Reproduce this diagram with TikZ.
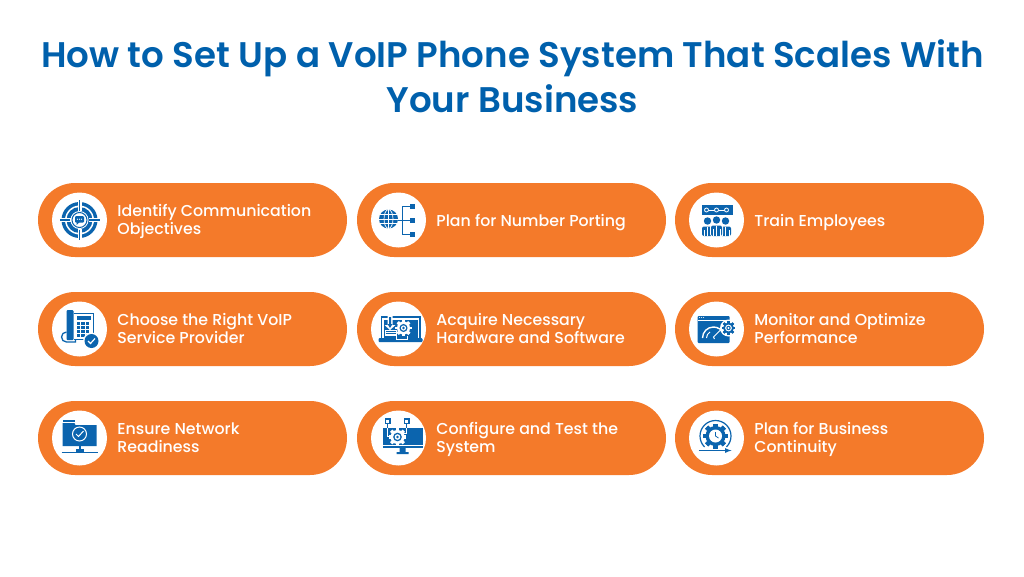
\documentclass[tikz,border=0pt]{standalone}
\usepackage{fontspec}
\setmainfont{Poppins Medium}[BoldFont={Poppins SemiBold}]
\usetikzlibrary{positioning,shapes.misc}
\definecolor{titleblue}{HTML}{0060AC}
\definecolor{iconblue}{HTML}{0B64AE}
\definecolor{pillorange}{HTML}{F47A2A}
\tikzset{
  pill/.style={rounded rectangle,fill=pillorange,minimum width=309pt,minimum height=74pt,inner sep=0pt},
  badge/.style={circle,fill=white,minimum size=55pt,inner sep=0pt},
  caption/.style={text=white,align=left,inner sep=0pt,yshift=-2.5pt,font=\fontsize{15.8}{18}\selectfont,execute at begin node=\strut,execute at end node=\strut},
  headline/.style={text=titleblue,align=center,inner sep=0pt,font=\fontsize{35.6}{45}\selectfont\bfseries},
  ic/.style={fill=iconblue,draw=none},
  icl/.style={draw=iconblue,line width=1pt},
  wl/.style={draw=white,line width=1pt}
}
% gear at a point: #1 centre, #2 radius, #3 colour, #4 hole colour
\newcommand{\gearicon}[4]{
  \foreach \a in {0,45,...,315}
    \fill[#3,rotate around={\a:(#1)}] ([shift={(-#2*0.22,-#2*1.25)}]#1) rectangle ([shift={(#2*0.22,#2*1.25)}]#1);
  \fill[#3] (#1) circle[radius=#2];
  \fill[#4] (#1) circle[radius=#2*0.62];
  \fill[#3] (#1) circle[radius=#2*0.4];
  \fill[#4] (#1) circle[radius=#2*0.2];
}
\begin{document}
\begin{tikzpicture}[x=1pt,y=-1pt]
\useasboundingbox (0,0) rectangle (1024,576);
\node[headline] (title) at (512.5,76) {How to Set Up a VoIP Phone System That Scales With\\Your Business};
% pills, badges and captions
\foreach \n/\px/\py/\txt in {
  1/192.5/220/{Identify Communication\\Objectives},
  2/192.5/329/{Choose the Right VoIP\\Service Provider},
  3/192.5/438/{Ensure Network\\Readiness},
  4/511.5/220/{Plan for Number Porting},
  5/511.5/329/{Acquire Necessary\\Hardware and Software},
  6/511.5/438/{Configure and Test the\\System},
  7/829.5/220/{Train Employees},
  8/829.5/329/{Monitor and Optimize\\Performance},
  9/829.5/438/{Plan for Business\\Continuity}}{
  \node[pill] (p\n) at (\px,\py) {};
  \node[badge,right=14pt of p\n.west] (b\n) {};
  \node[caption,right=10pt of b\n] (t\n) {\txt};
}
% target
\begin{scope}[shift={(b1.center)}]
\fill[iconblue] (0,0) circle[radius=18];
\fill[white] (0,0) circle[radius=14.5];
\fill[iconblue] (0,0) circle[radius=13];
\fill[white] (0,0) circle[radius=9];
\draw[icl] (0,0) circle[radius=7.5];
\foreach \a in {0,90,180,270}{
  \draw[white,line width=4pt,rotate=\a] (9,0) -- (19,0);
  \draw[iconblue,line width=1.2pt,rotate=\a] (9.5,0) -- (20,0);
}
\fill[iconblue,rounded corners=1pt] (-4.5,-4) rectangle (4.5,2.5);
\fill[iconblue] (-3,2) -- (-3,5) -- (0,2) -- cycle;
\foreach \x in {-2,0,2} \fill[white] (\x,-0.8) circle[radius=0.6];
\end{scope}
% phone
\begin{scope}[shift={(b2.center)}]
\fill[ic,rounded corners=1pt] (-13,-19) rectangle (-6,11);
\draw[icl,line width=1.3pt] (-13,3) arc[start angle=270,end angle=90,radius=5] -- (-4,13) -- (-4,11);
\draw[icl,line width=1.4pt] (-6,-15.5) -- (14,-15.5) -- (14,6);
\draw[icl,line width=1.4pt] (-6,10.5) -- (4,10.5);
\fill[ic] (-3,-13) rectangle (11,-9);
\foreach \i in {0,1,2,3} \foreach \j in {0,1,2}
  \fill[ic] (-3+\j*4.7,-7+\i*4) rectangle (0.5+\j*4.7,-4.2+\i*4);
\fill[white] (12,12) circle[radius=8.5];
\fill[ic] (12,12) circle[radius=7];
\draw[wl,line width=1.2pt] (8.5,12) -- (11,14.5) -- (15.5,9.5);
\end{scope}
% folder
\begin{scope}[shift={(b3.center)}]
\fill[ic] (-17,-18) rectangle (-5,-16);
\fill[ic] (-17,-15) -- (-5,-15) -- (-4,-13) -- (17,-13) -- (17,8) -- (-17,8) -- cycle;
\draw[wl] (0,-4) circle[radius=7];
\draw[wl] (-3.5,-4) -- (-1,-1.5) -- (4,-7);
\fill[ic] (-1,8) rectangle (1,12);
\fill[ic] (-4,11) rectangle (4,15);
\draw[icl] (-18,14) -- (18,14);
\end{scope}
% globe and tree
\begin{scope}[shift={(b4.center)}]
\fill[ic] (-10,-1) circle[radius=9.5];
\draw[wl,line width=.7pt] (-19.5,-1) -- (-0.5,-1) (-10,-10.5) -- (-10,8.5);
\draw[wl,line width=.7pt] (-10,-1) ellipse[x radius=4.5,y radius=9.5];
\draw[wl,line width=.7pt] (-18.5,-5.5) -- (-1.5,-5.5) (-18.5,3.5) -- (-1.5,3.5);
\draw[icl,line width=.7pt] (-0.5,0) -- (14,0) (12,-14) -- (4,-14) -- (4,14) -- (12,14);
\foreach \y in {-14,0,14} \fill[ic] (11.5,\y-2.5) rectangle (16.5,\y+2.5);
\end{scope}
% laptop
\begin{scope}[shift={(b5.center)}]
\fill[ic] (-18,-13) rectangle (22,9);
\fill[white] (-16.5,-11) rectangle (20.5,9);
\fill[ic] (-15,-9.5) rectangle (19,9);
\fill[ic,rounded corners=1pt] (-20,9) rectangle (24,13);
\fill[white] (-11,-13) -- (-6,-13) -- (-6,-4) -- (-3,-4) -- (-8.5,1) -- (-14,-4) -- (-11,-4) -- cycle;
\fill[ic] (-9.5,-12) -- (-7.5,-12) -- (-7.5,-5) -- (-6,-5) -- (-8.5,-1) -- (-11,-5) -- (-9.5,-5) -- cycle;
\fill[white] (-14,1) rectangle (-2,7);
\foreach \y in {2.5,4.5} \draw[icl,line width=.6pt] (-13,\y) -- (-3,\y);
\draw[wl,line width=.7pt] (-2,7) -- (-2,10) -- (9,10) -- (9,7);
\gearicon{5,-1}{6.5}{white}{iconblue}
\end{scope}
% monitor and gear
\begin{scope}[shift={(b6.center)}]
\fill[ic] (-16,-10) rectangle (24,10);
\fill[white] (-16,6.5) rectangle (24,7.5);
\fill[ic] (1,10) rectangle (7,14) (-2,14) rectangle (10,16);
\foreach \x in {-11,8}{
  \fill[ic] (\x-3,-20) rectangle (\x+3,-14);
  \fill[white] (\x-1.5,-18.5) rectangle (\x+1.5,-15.5);
}
\draw[wl] (-11,-10) -- (-11,-2) -- (-4,-2) (8,-10) -- (8,-5) -- (4,-5);
\draw[icl] (-11,-14) -- (-11,-10) (8,-14) -- (8,-10);
\gearicon{-1,-1}{7}{white}{iconblue}
\end{scope}
% team
\begin{scope}[shift={(b7.center)}]
\fill[ic] (-15,-15) rectangle (16,-5);
\draw[wl,line width=.8pt] (-10,-10) -- (10,-10);
\foreach \x in {-10,0,10} \filldraw[draw=white,fill=iconblue,line width=.8pt] (\x,-10) circle[radius=2];
\foreach \x/\h in {-9/1,9/1,0/0}{
  \fill[white,rounded corners=2pt] (\x-6.5,\h+5) rectangle (\x+6.5,16);
  \fill[ic,rounded corners=2pt] (\x-5.5,\h+5.5) rectangle (\x+5.5,16);
  \draw[wl,line width=.6pt] (\x,\h+6) -- (\x,16) (\x-3.5,\h+9) -- (\x-3.5,16) (\x+3.5,\h+9) -- (\x+3.5,16);
  \fill[white] (\x,\h) circle[radius=4.5];
  \fill[iconblue] (\x,\h) circle[radius=3.7];
}
\end{scope}
% gauge
\begin{scope}[shift={(b8.center)}]
\fill[ic,rounded corners=1pt] (-19,-13) rectangle (13,14);
\fill[white] (-19,-9) rectangle (13,-8);
\foreach \x in {-17,-15,-13} \fill[white] (\x,-11.5) circle[radius=.5];
\draw[wl,line width=1.4pt] (-14,9) arc[start angle=180,end angle=340,radius=11];
\draw[wl] (-10,9) arc[start angle=180,end angle=240,radius=7];
\draw[wl] (-2,10) -- (-3,8) -- (4,1);
\fill[white] (12,-1) circle[radius=8.5];
\gearicon{12,-1}{5.5}{iconblue}{white}
\end{scope}
% clock and gear
\begin{scope}[shift={(b9.center)}]
\gearicon{-1,-2}{10}{iconblue}{white}
\fill[ic] (-1,-2) circle[radius=8];
\fill[white] (-1,-2) circle[radius=6.5];
\draw[icl,line width=.8pt] (-1,-6) -- (-1,-2) -- (2,0);
\draw[icl,line width=1.2pt] (-1,-2) ++(135:15.5) arc[start angle=135,end angle=405,radius=15.5];
\draw[icl,line width=1.2pt,->,>=latex] (-18,12.5) -- (15,12.5);
\end{scope}
\end{tikzpicture}
\end{document}
